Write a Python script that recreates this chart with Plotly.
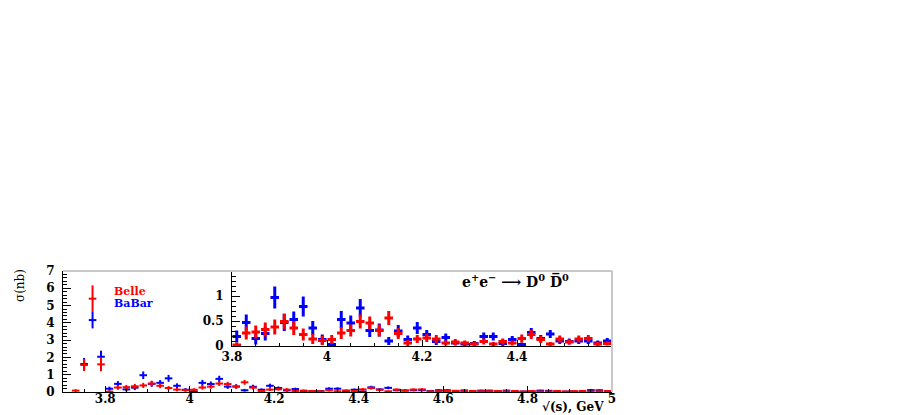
import plotly.graph_objects as go

# ---------------- data ----------------
energy = [3.73, 3.75, 3.77, 3.79, 3.81, 3.83, 3.85, 3.87, 3.89, 3.91,
          3.93, 3.95, 3.97, 3.99, 4.01, 4.03, 4.05, 4.07, 4.09, 4.11,
          4.13, 4.15, 4.17, 4.19, 4.21, 4.23, 4.25, 4.27, 4.29, 4.31,
          4.33, 4.35, 4.37, 4.39, 4.41, 4.43, 4.45, 4.47, 4.49, 4.51,
          4.53, 4.55, 4.57, 4.59, 4.61, 4.63, 4.65, 4.67, 4.69, 4.71,
          4.73, 4.75, 4.77, 4.79, 4.81, 4.83, 4.85, 4.87, 4.89, 4.91,
          4.93, 4.95, 4.97, 4.99]

belle = [0.08, 1.56, 5.40, 1.60, 0.02, 0.26, 0.28, 0.33, 0.38, 0.49,
         0.36, 0.23, 0.14, 0.11, 0.13, 0.26, 0.31, 0.49, 0.46, 0.31,
         0.56, 0.25, 0.06, 0.14, 0.16, 0.14, 0.06, 0.08, 0.06, 0.04,
         0.09, 0.04, 0.09, 0.06, 0.15, 0.23, 0.13, 0.04, 0.14, 0.08,
         0.14, 0.15, 0.04, 0.05, 0.06, 0.07, 0.05, 0.06, 0.04, 0.05,
         0.06, 0.04, 0.06, 0.03, 0.05, 0.03, 0.04, 0.06, 0.03, 0.05,
         0.06, 0.03, 0.04, 0.05]
belle_err = [0.08, 0.35, 0.77, 0.40, 0.05, 0.13, 0.13, 0.14, 0.15, 0.16,
             0.14, 0.12, 0.10, 0.09, 0.09, 0.12, 0.12, 0.14, 0.13, 0.12,
             0.14, 0.11, 0.06, 0.08, 0.08, 0.08, 0.05, 0.06, 0.05, 0.04,
             0.06, 0.04, 0.06, 0.05, 0.08, 0.09, 0.07, 0.04, 0.07, 0.05,
             0.07, 0.07, 0.04, 0.04, 0.04, 0.04, 0.04, 0.04, 0.04, 0.04,
             0.04, 0.04, 0.04, 0.03, 0.04, 0.03, 0.04, 0.04, 0.03, 0.04,
             0.04, 0.03, 0.04, 0.04]

babar = [None, 1.62, 4.16, 2.04, 0.19, 0.47, 0.15, 0.25, 0.97, 0.47,
         0.53, 0.79, 0.36, 0.13, 0.03, 0.53, 0.46, 0.76, 0.31, 0.32,
         0.10, 0.30, 0.13, 0.36, 0.23, 0.09, 0.17, 0.06, 0.04, 0.05,
         0.19, 0.19, 0.05, 0.13, 0.03, 0.27, 0.15, 0.24, 0.10, 0.09,
         0.10, 0.10, 0.06, 0.10, 0.10, 0.04, 0.09, 0.04, 0.08, 0.08,
         0.03, 0.08, 0.03, 0.02, 0.03, 0.08, 0.07, 0.03, 0.02, 0.03,
         0.03, 0.11, 0.10, 0.04]
babar_err = [None, 0.35, 0.48, 0.35, 0.12, 0.16, 0.12, 0.14, 0.22, 0.17,
             0.16, 0.20, 0.14, 0.10, 0.06, 0.17, 0.15, 0.18, 0.13, 0.13,
             0.08, 0.12, 0.08, 0.12, 0.09, 0.07, 0.08, 0.05, 0.04, 0.05,
             0.08, 0.08, 0.05, 0.07, 0.04, 0.09, 0.07, 0.08, 0.06, 0.06,
             0.06, 0.06, 0.05, 0.06, 0.05, 0.05, 0.05, 0.05, 0.05, 0.05,
             0.05, 0.05, 0.05, 0.05, 0.05, 0.05, 0.05, 0.05, 0.05, 0.05,
             0.05, 0.05, 0.05, 0.05]

bin_half = 0.009

main_xticks = [3.8, 4.0, 4.2, 4.4, 4.6, 4.8, 5.0]
main_xlabels = ["3.8", "4", "4.2", "4.4", "4.6", "4.8", "5"]
main_yticks = [0, 1, 2, 3, 4, 5, 6, 7]
inset_xticks = [3.8, 4.0, 4.2, 4.4]
inset_xlabels = ["3.8", "4", "4.2", "4.4"]
inset_yticks = [0, 0.5, 1]
inset_ylabels = ["0", "0.5", "1"]

RED = "#ff0000"
BLUE = "#0000ff"
FONT = "DejaVu Serif"

W, H = 913, 415
OFF = 8  # page body margin


def px(x):
    return (x - OFF) / W


def py(y):
    return (H - (y - OFF)) / H


fig = go.Figure()

for xa, ya, th in [("x", "y", 2), ("x2", "y2", 3)]:
    for vals, errs, col in [(babar, babar_err, BLUE), (belle, belle_err, RED)]:
        fig.add_trace(go.Scatter(
            x=energy, y=vals, mode="markers", xaxis=xa, yaxis=ya,
            marker=dict(size=1, color=col),
            error_y=dict(type="data", array=errs, color=col, thickness=th, width=0),
            error_x=dict(type="constant", value=bin_half, color=col, thickness=th, width=0),
            showlegend=False, cliponaxis=True,
        ))

tickfont = dict(family=FONT, size=12, color="black", weight="bold")

main_l, main_r, main_t, main_b = 63, 612, 271, 392
ins_l, ins_r, ins_t, ins_b = 232, 612, 271, 346

common = dict(showline=True, linecolor="black", linewidth=1, showgrid=False,
              zeroline=False, tickfont=tickfont, tickcolor="black", automargin=False)

fig.update_layout(
    width=W, height=H,
    margin=dict(l=0, r=0, t=0, b=0, pad=0),
    paper_bgcolor="white", plot_bgcolor="white",
    xaxis=dict(domain=[px(main_l), px(main_r)], range=[3.7, 5.0], anchor="y",
               tickvals=main_xticks, ticktext=main_xlabels, ticks="inside", ticklen=6,
               ticklabelstandoff=-4,
               minor=dict(ticks="inside", ticklen=3, dtick=0.05, tick0=3.7, tickcolor="black"),
               **common),
    yaxis=dict(domain=[py(main_b), py(main_t)], range=[0, 7], anchor="x",
               tickvals=main_yticks, ticks="inside", ticklen=8, ticklabelstandoff=5,
               minor=dict(ticks="inside", ticklen=4, dtick=0.2, tick0=0, tickcolor="black"),
               **common),
    xaxis2=dict(domain=[px(ins_l), px(ins_r)], range=[3.8, 4.6], anchor="y2",
                tickvals=inset_xticks, ticktext=inset_xlabels, ticks="inside", ticklen=6,
                minor=dict(ticks="inside", ticklen=3, dtick=0.05, tick0=3.8, tickcolor="black"),
                **common),
    yaxis2=dict(domain=[py(ins_b), py(ins_t)], range=[0, 1.5], anchor="x2",
                tickvals=inset_yticks, ticktext=inset_ylabels, ticks="inside", ticklen=8,
                ticklabelstandoff=5,
                minor=dict(ticks="inside", ticklen=4, dtick=0.1, tick0=0, tickcolor="black"),
                **common),
)

grey = "#c8c8c8"
shapes = [
    dict(type="line", xref="paper", yref="paper", x0=px(main_l), x1=px(main_r),
         y0=py(main_t), y1=py(main_t), line=dict(color=grey, width=2)),
    dict(type="line", xref="paper", yref="paper", x0=px(main_r), x1=px(main_r),
         y0=py(main_t), y1=py(main_b), line=dict(color=grey, width=2)),
]
fig.update_layout(shapes=shapes)

annotations = [
    dict(text="σ(nb)", x=px(20), y=py(286), xref="paper", yref="paper",
         textangle=-90, showarrow=False, font=dict(family=FONT, size=12, color="black"),
         xanchor="center", yanchor="middle"),
    dict(text="Belle", x=px(112), y=py(291), xref="paper", yref="paper",
         showarrow=False, font=dict(family=FONT, size=11, color=RED, weight="bold"),
         xanchor="left", yanchor="middle"),
    dict(text="BaBar", x=px(112), y=py(303), xref="paper", yref="paper",
         showarrow=False, font=dict(family=FONT, size=11, color=BLUE, weight="bold"),
         xanchor="left", yanchor="middle"),
    dict(text="e<sup>+</sup>e<sup>−</sup> ⟶ D<sup>0</sup> D\u0305<sup>0</sup>",
         x=px(515), y=py(281), xref="paper", yref="paper",
         showarrow=False, font=dict(family=FONT, size=14, color="black", weight="bold"),
         xanchor="center", yanchor="middle"),
    dict(text="√(s), GeV", x=px(606), y=py(407), xref="paper", yref="paper",
         showarrow=False, font=dict(family=FONT, size=12, color="black", weight="bold"),
         xanchor="right", yanchor="middle"),
]
fig.update_layout(annotations=annotations)

fig.write_html("out.html")
